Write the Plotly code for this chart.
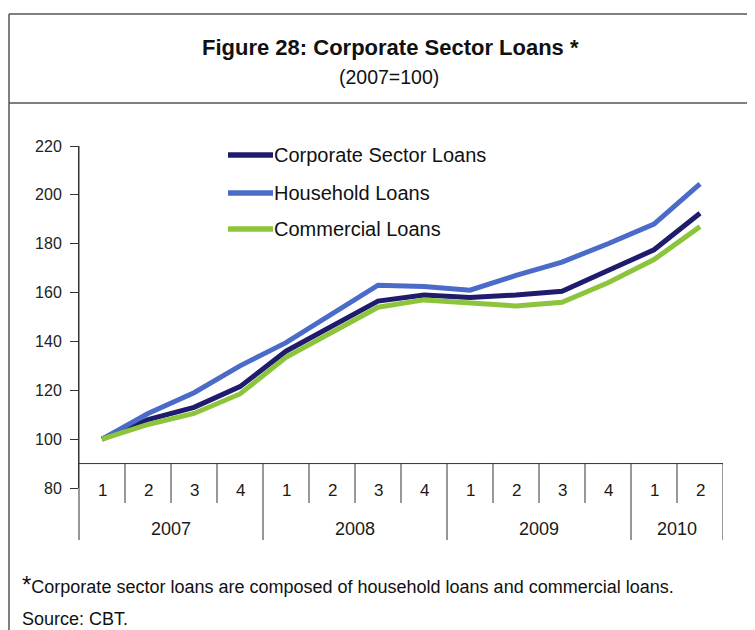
import plotly.graph_objects as go

# ---- data ----
quarters = ["1", "2", "3", "4", "1", "2", "3", "4", "1", "2", "3", "4", "1", "2"]
years = ["2007", "2008", "2009", "2010"]
year_counts = [4, 4, 4, 2]
series_names = ["Corporate Sector Loans", "Household Loans", "Commercial Loans"]
corporate = [100, 108, 113, 121.5, 136, 146, 156.5, 159, 158, 159, 160.5, 169, 177.5, 192.5]
household = [100, 110.5, 119, 130, 139.5, 151.5, 163, 162.5, 161, 167, 172.5, 180, 188, 204.5]
commercial = [100, 106, 110.5, 118.5, 133.5, 143.5, 154, 157, 156, 154.5, 156, 164, 173.5, 187]
colors = ["#1F1C6E", "#4A6BC8", "#8CC43C"]

# page body has an 8px margin; the figure is sized to fit the 755x630 window
OFF = 8
W, H = 755 - OFF, 630 - OFF


def px(x):
    return (x - OFF) / W


def py(y):
    return 1 - (y - OFF) / H


FONT = "Liberation Sans, Arial, sans-serif"
LINE_C = "#333333"
TXT = "#1a1a1a"

x_idx = list(range(len(quarters)))
fig = go.Figure()
for name, vals, c in zip(series_names, [corporate, household, commercial], colors):
    fig.add_trace(go.Scatter(x=x_idx, y=vals, mode="lines", name=name,
                             line=dict(color=c, width=5), showlegend=False))

shapes = []
annotations = []

# frame
shapes.append(dict(type="line", xref="paper", yref="paper", x0=px(9), x1=1, y0=py(14), y1=py(14),
                   line=dict(color="#555555", width=1.5)))
shapes.append(dict(type="line", xref="paper", yref="paper", x0=px(9), x1=1, y0=py(103), y1=py(103),
                   line=dict(color="#555555", width=1.5)))
shapes.append(dict(type="line", xref="paper", yref="paper", x0=px(9), x1=px(9), y0=py(14), y1=0,
                   line=dict(color="#555555", width=1.5)))

# y axis extension down through category area
shapes.append(dict(type="line", xref="paper", yref="paper", x0=px(79), x1=px(79), y0=py(146), y1=py(540),
                   line=dict(color=LINE_C, width=1)))
# horizontal category axis line at value 90
shapes.append(dict(type="line", xref="paper", yref="y", x0=px(79), x1=px(723), y0=90, y1=90,
                   line=dict(color=LINE_C, width=1)))

# dividers
boundaries = []
acc = 0
for cnt in year_counts:
    acc += cnt
    boundaries.append(acc - 0.5)
for k in range(len(quarters)):
    b = k + 0.5
    long = b in boundaries
    shapes.append(dict(type="line", xref="x", yref="paper", x0=b, x1=b, y0=py(463),
                       y1=py(540 if long else 503), line=dict(color=LINE_C, width=1)))

# quarter labels
for k, q in enumerate(quarters):
    annotations.append(dict(x=k, y=py(490), xref="x", yref="paper", text=q, showarrow=False,
                            font=dict(family=FONT, size=17, color=TXT),
                            xanchor="center", yanchor="middle"))
# year labels
start = 0
for yr, cnt in zip(years, year_counts):
    annotations.append(dict(x=start + (cnt - 1) / 2, y=py(529), xref="x", yref="paper", text=yr,
                            showarrow=False, font=dict(family=FONT, size=18, color=TXT),
                            xanchor="center", yanchor="middle"))
    start += cnt

# legend (manual)
leg_y = [155, 193, 229]
for name, c, yy in zip(series_names, colors, leg_y):
    shapes.append(dict(type="line", xref="paper", yref="paper", x0=px(228), x1=px(273),
                       y0=py(yy), y1=py(yy), line=dict(color=c, width=5.5)))
    annotations.append(dict(x=px(272), y=py(yy), xref="paper", yref="paper", text=name,
                            showarrow=False, xanchor="left", yanchor="middle",
                            font=dict(family=FONT, size=20, color="#111111")))

# titles
annotations.append(dict(x=px(390), y=py(47), xref="paper", yref="paper",
                        text="<b>Figure 28: Corporate Sector Loans *</b>", showarrow=False,
                        xanchor="center", yanchor="middle",
                        font=dict(family=FONT, size=22, color="#111111")))
annotations.append(dict(x=px(389), y=py(77), xref="paper", yref="paper", text="(2007=100)",
                        showarrow=False, xanchor="center", yanchor="middle",
                        font=dict(family=FONT, size=19.5, color="#111111")))
# footnotes
annotations.append(dict(x=px(20), y=py(584), xref="paper", yref="paper",
                        text="<span style='font-size:24px'>*</span>Corporate sector loans are composed of household loans and commercial loans.",
                        showarrow=False, xanchor="left", yanchor="middle",
                        font=dict(family=FONT, size=18, color="#111111")))
annotations.append(dict(x=px(20), y=py(619), xref="paper", yref="paper", text="Source: CBT.",
                        showarrow=False, xanchor="left", yanchor="middle",
                        font=dict(family=FONT, size=18, color="#111111")))

fig.update_layout(
    width=W, height=H, autosize=False,
    margin=dict(l=0, r=0, t=0, b=0, pad=0, autoexpand=False),
    paper_bgcolor="white", plot_bgcolor="white",
    xaxis=dict(domain=[px(79), px(723)], range=[-0.5, len(quarters) - 0.5], showgrid=False,
               zeroline=False, showticklabels=False, ticks="", showline=False, automargin=False),
    yaxis=dict(domain=[py(488), py(146)], range=[80, 220], dtick=20, tick0=80, showgrid=False,
               zeroline=False, showline=True, linecolor=LINE_C, linewidth=1, ticks="outside",
               ticklen=8, tickcolor=LINE_C, automargin=False, ticklabelstandoff=5,
               tickfont=dict(family=FONT, size=16, color="#222222")),
    shapes=shapes, annotations=annotations,
)

fig.write_html("out.html")
